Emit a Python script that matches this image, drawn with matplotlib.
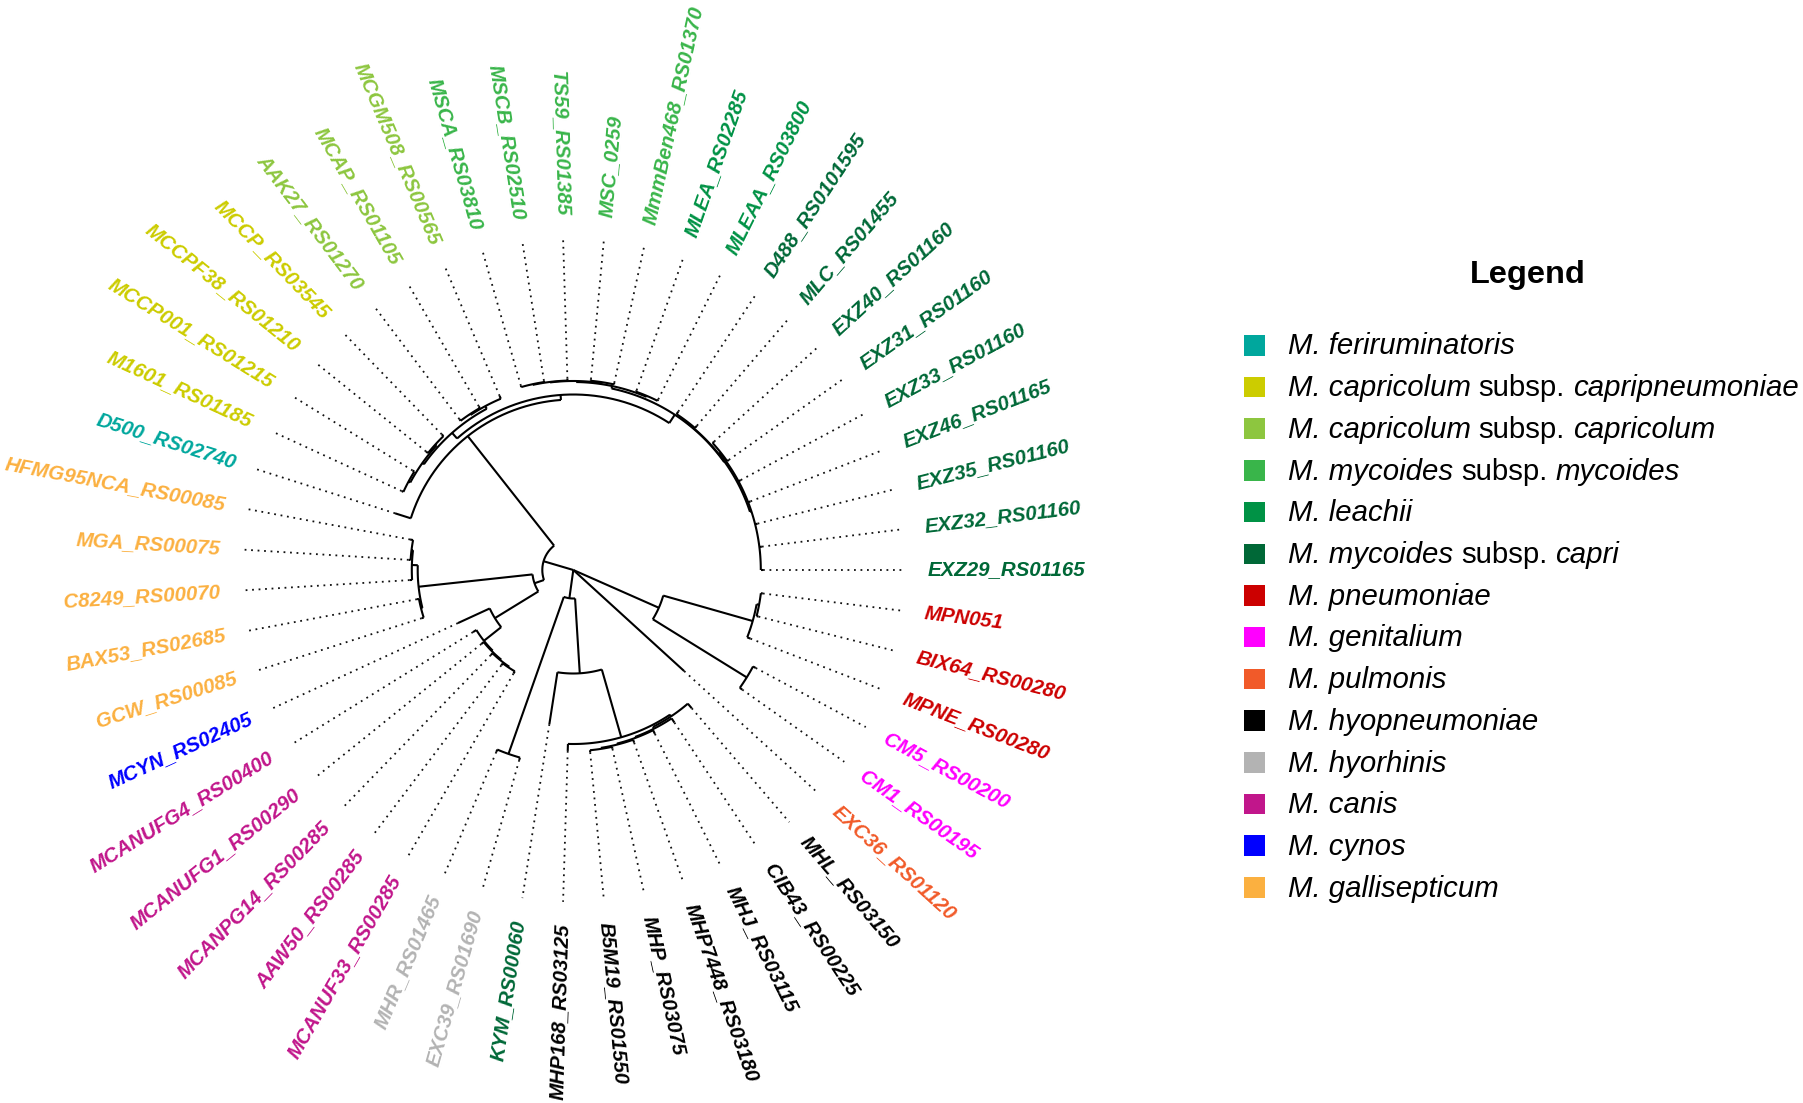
import numpy as np
import matplotlib
matplotlib.use("Agg")
import matplotlib.pyplot as plt

# ---------------- data ----------------
EXZG = ("(EXZ29_RS01165:0.0025,EXZ32_RS01160:0.0025,EXZ35_RS01160:0.0025,EXZ46_RS01165:0.0025,"
        "EXZ33_RS01160:0.0025,(EXZ31_RS01160:0.002,EXZ40_RS01160:0.002):0.001)")
CAPRI = f"({EXZG}:0.0015,(MLC_RS01455:0.003,D488_RS0101595:0.003):0.001)"
MML = ("((MLEAA_RS03800:0.0015,MLEA_RS02285:0.0015):0.001,((MmmBen468_RS01370:0.0015,MSC_0259:0.0015):0.001,"
       "(TS59_RS01385:0.002,(MSCB_RS02510:0.0013,MSCA_RS03810:0.0013):0.0007):0.0005):0.001)")
MY = f"({CAPRI}:0.0005,{MML}:0.0025)"
CAPC = ("((MCGM508_RS00565:0.003,(MCAP_RS01105:0.002,AAK27_RS01270:0.002):0.001):0.003,"
        "((MCCP_RS03545:0.0025,MCCPF38_RS01210:0.0025):0.0015,(MCCP001_RS01215:0.002,M1601_RS01185:0.002):0.002):0.002)")
MCL = f"(({MY}:0.010,{CAPC}:0.0075):0.005,D500_RS02740:0.0165)"
GAL = ("(((HFMG95NCA_RS00085:0.003,MGA_RS00075:0.002):0.0015,C8249_RS00070:0.0025):0.0059,"
       "(BAX53_RS02685:0.002,GCW_RS00085:0.002):0.0014)")
CANC = ("(MCYN_RS02405:0.035,(MCANUFG4_RS00400:0.004,(MCANUFG1_RS00290:0.003,(MCANPG14_RS00285:0.0025,"
        "(AAW50_RS00285:0.0025,MCANUF33_RS00285:0.0025):0.001):0.001):0.001):0.022)")
XCL = f"({GAL}:0.1146,{CANC}:0.051)"
LCL = f"({MCL}:0.1395,{XCL}:0.010)"
HYO = ("(MHP168_RS03125:0.007,(((((B5M19_RS01550:0.002,MHP_RS03075:0.002):0.001,MHP7448_RS03180:0.003):0.001,"
       "MHJ_RS03115:0.004):0.001,CIB43_RS00225:0.005):0.002,MHL_RS03150:0.006):0.002)")
HHC = f"((MHR_RS01465:0.0025,EXC39_RS01690:0.0025):0.1665,(KYM_RS00060:0.0525,{HYO}:0.0705):0.075)"
PGC = ("((CM1_RS00195:0.003,CM5_RS00200:0.003):0.1105,"
       "(MPNE_RS00280:0.0035,(BIX64_RS00280:0.002,MPN051:0.002):0.0025):0.093)")
TREE = f"({LCL}:0.031,{HHC}:0.0285,EXC36_RS01120:0.150,{PGC}:0.0935);"

species = ["M. feriruminatoris", "M. capricolum subsp. capripneumoniae", "M. capricolum subsp. capricolum",
           "M. mycoides subsp. mycoides", "M. leachii", "M. mycoides subsp. capri", "M. pneumoniae",
           "M. genitalium", "M. pulmonis", "M. hyopneumoniae", "M. hyorhinis", "M. canis", "M. cynos",
           "M. gallisepticum"]
species_colors = ["#00A79D", "#CCCC00", "#8DC63F", "#39B54A", "#009245", "#006837", "#CC0000",
                  "#FF00FF", "#F15A29", "#000000", "#B3B3B3", "#C1168B", "#0000FF", "#FBB040"]
# legend text pieces: (text, italic)
legend_pieces = [
    [("M. feriruminatoris", True)],
    [("M. capricolum", True), ("subsp.", False), ("capripneumoniae", True)],
    [("M. capricolum", True), ("subsp.", False), ("capricolum", True)],
    [("M. mycoides", True), ("subsp.", False), ("mycoides", True)],
    [("M. leachii", True)],
    [("M. mycoides", True), ("subsp.", False), ("capri", True)],
    [("M. pneumoniae", True)],
    [("M. genitalium", True)],
    [("M. pulmonis", True)],
    [("M. hyopneumoniae", True)],
    [("M. hyorhinis", True)],
    [("M. canis", True)],
    [("M. cynos", True)],
    [("M. gallisepticum", True)],
]

tip_species = {
    "EXZ29_RS01165": 5, "EXZ32_RS01160": 5, "EXZ35_RS01160": 5, "EXZ46_RS01165": 5, "EXZ33_RS01160": 5,
    "EXZ31_RS01160": 5, "EXZ40_RS01160": 5, "MLC_RS01455": 5, "D488_RS0101595": 5,
    "MLEAA_RS03800": 4, "MLEA_RS02285": 4,
    "MmmBen468_RS01370": 3, "MSC_0259": 3, "TS59_RS01385": 3, "MSCB_RS02510": 3, "MSCA_RS03810": 3,
    "MCGM508_RS00565": 2, "MCAP_RS01105": 2, "AAK27_RS01270": 2,
    "MCCP_RS03545": 1, "MCCPF38_RS01210": 1, "MCCP001_RS01215": 1, "M1601_RS01185": 1,
    "D500_RS02740": 0,
    "HFMG95NCA_RS00085": 13, "MGA_RS00075": 13, "C8249_RS00070": 13, "BAX53_RS02685": 13, "GCW_RS00085": 13,
    "MCYN_RS02405": 12,
    "MCANUFG4_RS00400": 11, "MCANUFG1_RS00290": 11, "MCANPG14_RS00285": 11, "AAW50_RS00285": 11,
    "MCANUF33_RS00285": 11,
    "MHR_RS01465": 10, "EXC39_RS01690": 10,
    "KYM_RS00060": 5,
    "MHP168_RS03125": 9, "B5M19_RS01550": 9, "MHP_RS03075": 9, "MHP7448_RS03180": 9, "MHJ_RS03115": 9,
    "CIB43_RS00225": 9, "MHL_RS03150": 9,
    "EXC36_RS01120": 8,
    "CM1_RS00195": 7, "CM5_RS00200": 7,
    "MPNE_RS00280": 6, "BIX64_RS00280": 6, "MPN051": 6,
}

# ---------------- layout parameters ----------------
W, H = 1803, 1103
CX, CY = 573.3, 570.0        # tree centre (pixels)
SCALE = 1000.0               # pixels per branch-length unit
R_DOT = 332.0                # end of aligned dotted lines
R_LAB = 354.0                # start of tip labels
LW_TREE = 1.5


def parse_newick(s):
    pos = 0

    def node():
        nonlocal pos
        children = []
        if s[pos] == "(":
            pos += 1
            while True:
                children.append(node())
                if s[pos] == ",":
                    pos += 1
                    continue
                if s[pos] == ")":
                    pos += 1
                    break
        start = pos
        while s[pos] not in ",():;":
            pos += 1
        name = s[start:pos]
        length = 0.0
        if s[pos] == ":":
            pos += 1
            start = pos
            while s[pos] not in ",();":
                pos += 1
            length = float(s[start:pos])
        return {"name": name, "len": length, "children": children}

    return node()


root = parse_newick(TREE)

tips = []


def collect(n):
    if not n["children"]:
        tips.append(n)
    for c in n["children"]:
        collect(c)


collect(root)
NT = len(tips)
step = 360.0 / NT
for i, t in enumerate(tips):
    t["ang"] = i * step


def layout(n, r0):
    n["r"] = r0 + n["len"] * SCALE
    for c in n["children"]:
        layout(c, n["r"])
    if n["children"]:
        n["ang"] = float(np.mean([c["ang"] for c in n["children"]]))


root["len"] = 0.0
layout(root, 0.0)


def xy(r, a):
    t = np.deg2rad(a)
    return CX + r * np.cos(t), CY - r * np.sin(t)


fig = plt.figure(figsize=(W / 100, H / 100), dpi=100)
ax = fig.add_axes([0, 0, 1, 1])
ax.set_xlim(0, W)
ax.set_ylim(H, 0)
ax.axis("off")


def draw(n, parent_r):
    if n is not root:
        x0, y0 = xy(parent_r, n["ang"])
        x1, y1 = xy(n["r"], n["ang"])
        ax.plot([x0, x1], [y0, y1], color="black", lw=LW_TREE, solid_capstyle="butt")
    if n["children"]:
        angs = [c["ang"] for c in n["children"]]
        a0, a1 = min(angs), max(angs)
        if n["r"] > 0 and a1 > a0:
            aa = np.linspace(a0, a1, max(3, int((a1 - a0) * 2)))
            xs, ys = xy(n["r"], aa)
            ax.plot(xs, ys, color="black", lw=LW_TREE, solid_capstyle="butt")
        for c in n["children"]:
            draw(c, n["r"])


draw(root, 0.0)

for t in tips:
    col = species_colors[tip_species[t["name"]]]
    x0, y0 = xy(t["r"], t["ang"])
    x1, y1 = xy(R_DOT, t["ang"])
    ax.plot([x0, x1], [y0, y1], color="#111111", lw=1.3, linestyle=(0, (1, 2.6)), dash_capstyle="butt")
    a = t["ang"]
    lx, ly = xy(R_LAB, a)
    if 90 < a < 270:
        rot, ha = a - 180, "right"
    else:
        rot, ha = a, "left"
    ax.text(lx, ly, t["name"], rotation=rot, rotation_mode="anchor", ha=ha, va="center",
            fontsize=14.8, fontweight="bold", fontstyle="italic", family="Liberation Sans", color=col)

# ---------------- legend ----------------
ax.text(1528, 283, "Legend", ha="center", va="baseline", fontsize=23.4, fontweight="bold",
        family="Liberation Sans", color="black")

renderer = fig.canvas.get_renderer()
LEG_FS = 21.2


def text_width(s, italic):
    tt = ax.text(0, 0, s, fontsize=LEG_FS, family="Liberation Sans", fontstyle="italic" if italic else "normal")
    w = tt.get_window_extent(renderer).width
    tt.remove()
    return w


space_w = text_width("M M", False) - text_width("MM", False)

for i, pieces in enumerate(legend_pieces):
    yc = 345 + i * 41.7
    ax.add_patch(plt.Rectangle((1244, yc - 10), 20.5, 20.5, color=species_colors[i], lw=0))
    x = 1287.5
    for j, (s, it) in enumerate(pieces):
        tt = ax.text(x, yc + 9.5, s, ha="left", va="baseline", fontsize=LEG_FS, family="Liberation Sans",
                     fontstyle="italic" if it else "normal", color="black")
        x += tt.get_window_extent(renderer).width + space_w

fig.savefig("out.png", dpi=100)
